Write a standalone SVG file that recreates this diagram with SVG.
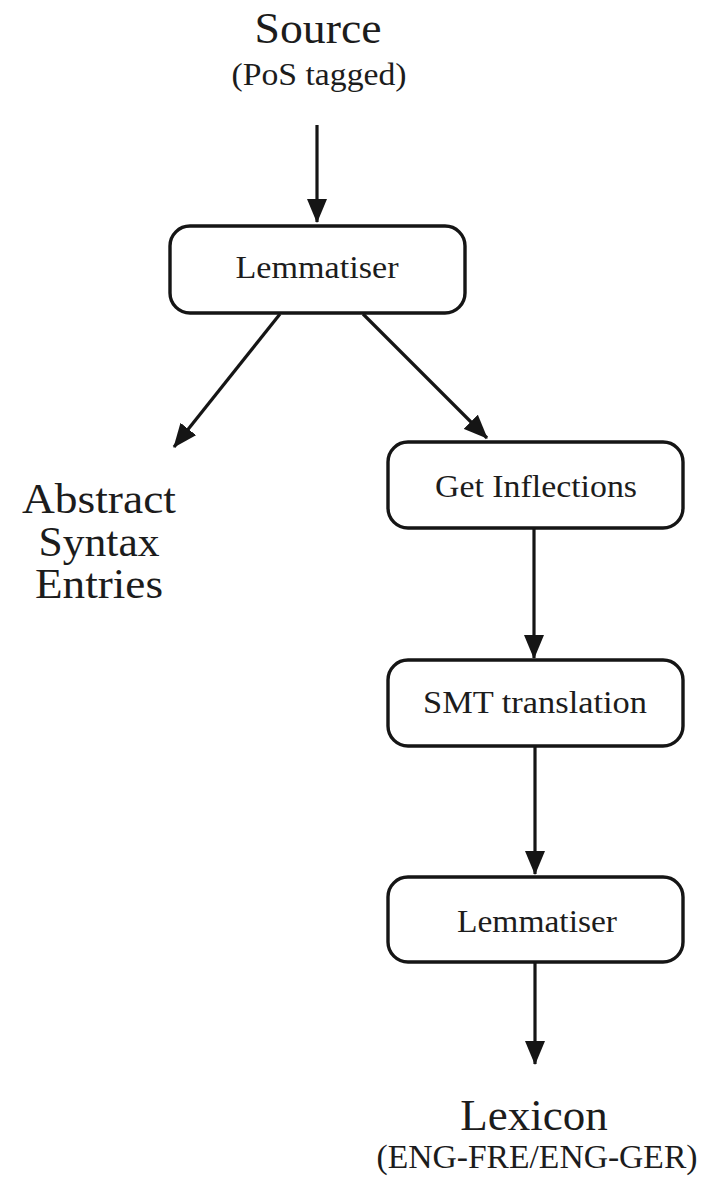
<svg xmlns="http://www.w3.org/2000/svg" width="706" height="1180" viewBox="0 0 706 1180">
  <style>
    .box { fill: #ffffff; stroke: #151515; stroke-width: 3.4; }
    .edge { fill: none; stroke: #151515; stroke-width: 3.2; }
    text { font-family: "Liberation Serif", "Times New Roman", serif; fill: #1c1c1c; text-anchor: middle; }
    .big { font-size: 44px; }
    .side { font-size: 42px; }
    .small { font-size: 32px; }
    .label { font-size: 32px; }
  </style>
  <defs>
    <marker id="arrow" viewBox="0 0 24 20" refX="23" refY="10" markerWidth="24" markerHeight="20" markerUnits="userSpaceOnUse" orient="auto">
      <path d="M0,0 L24,10 L0,20 Z" fill="#151515"/>
    </marker>
  </defs>
  <rect width="706" height="1180" fill="#ffffff"/>

  <g id="source">
    <text class="big" x="318" y="43" textLength="127" lengthAdjust="spacingAndGlyphs">Source</text>
    <text class="small" x="319" y="85" textLength="175" lengthAdjust="spacingAndGlyphs">(PoS tagged)</text>
  </g>

  <g id="lemmatiser1">
    <rect class="box" x="170" y="226" width="295" height="87" rx="20" ry="20"/>
    <text class="label" x="317" y="278" textLength="163" lengthAdjust="spacingAndGlyphs">Lemmatiser</text>
  </g>

  <g id="abstract">
    <text class="side" x="99" y="513" textLength="154" lengthAdjust="spacingAndGlyphs">Abstract</text>
    <text class="side" x="99" y="556" textLength="121" lengthAdjust="spacingAndGlyphs">Syntax</text>
    <text class="side" x="99" y="598" textLength="128" lengthAdjust="spacingAndGlyphs">Entries</text>
  </g>

  <g id="getinflections">
    <rect class="box" x="388" y="442" width="295" height="86" rx="20" ry="20"/>
    <text class="label" x="536" y="497" textLength="202" lengthAdjust="spacingAndGlyphs">Get Inflections</text>
  </g>

  <g id="smt">
    <rect class="box" x="388" y="660" width="295" height="86" rx="20" ry="20"/>
    <text class="label" x="535" y="713" textLength="224" lengthAdjust="spacingAndGlyphs">SMT translation</text>
  </g>

  <g id="lemmatiser2">
    <rect class="box" x="388" y="877" width="295" height="85" rx="20" ry="20"/>
    <text class="label" x="537" y="932" textLength="160" lengthAdjust="spacingAndGlyphs">Lemmatiser</text>
  </g>

  <g id="lexicon">
    <text class="big" x="534" y="1130" style="font-size:45px">Lexicon</text>
    <text x="537" y="1168" style="font-size:33px" textLength="321" lengthAdjust="spacingAndGlyphs">(ENG-FRE/ENG-GER)</text>
  </g>

  <g id="connectors">
    <line class="edge" x1="317" y1="125" x2="317" y2="222" marker-end="url(#arrow)"/>
    <line class="edge" x1="280" y1="314" x2="174" y2="447" marker-end="url(#arrow)"/>
    <line class="edge" x1="363" y1="314" x2="487" y2="438" marker-end="url(#arrow)"/>
    <line class="edge" x1="534" y1="528" x2="534" y2="658" marker-end="url(#arrow)"/>
    <line class="edge" x1="535" y1="746" x2="535" y2="874" marker-end="url(#arrow)"/>
    <line class="edge" x1="535" y1="962" x2="535" y2="1064" marker-end="url(#arrow)"/>
  </g>
</svg>
